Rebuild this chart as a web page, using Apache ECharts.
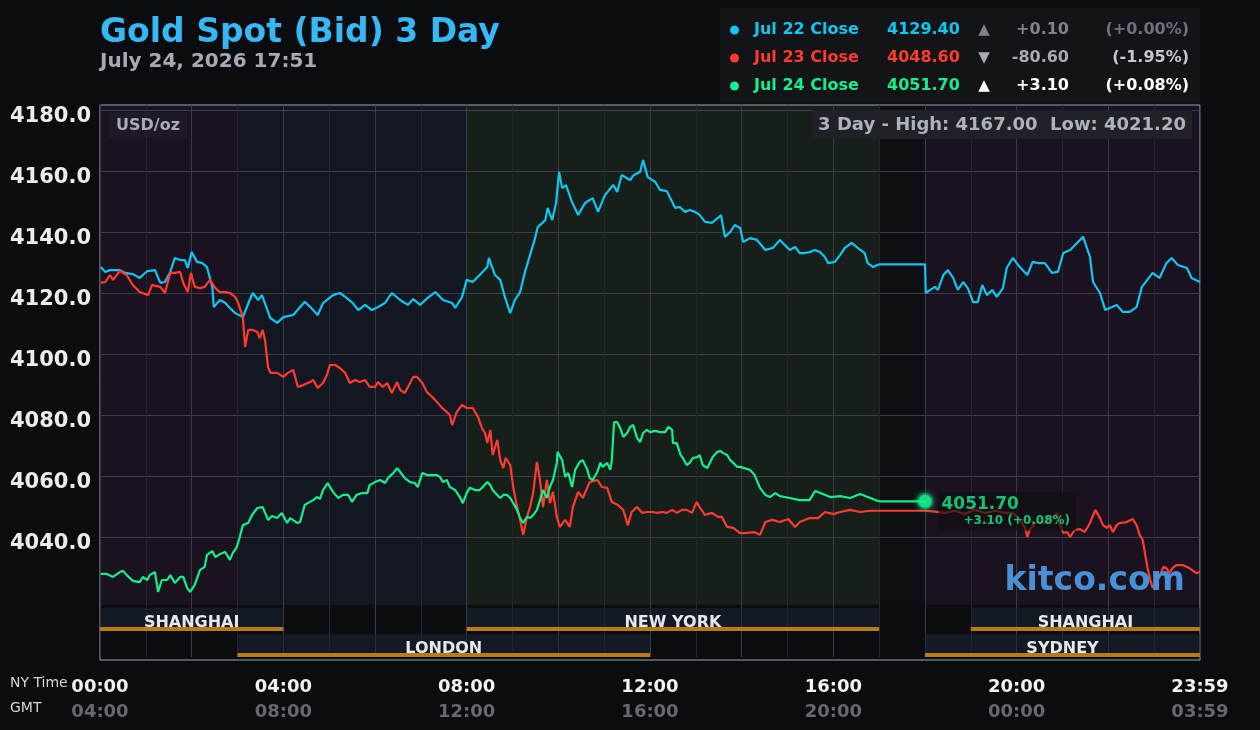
<!DOCTYPE html>
<html>
<head>
<meta charset="utf-8">
<title>Gold Spot (Bid) 3 Day</title>
<script src="https://cdn.jsdelivr.net/npm/echarts@6/dist/echarts.min.js"></script>
<style>
  html, body { margin: 0; padding: 0; background: #0b0c10; }
  #chart { width: 1260px; height: 730px; }
</style>
</head>
<body>
<div id="chart"></div>
<script>
// times are minutes after midnight, NY time
const jul22Times = [1,7,13,26,33,43,52,62,72,79,85,92,98,105,111,115,120,127,134,140,147,149,157,164,170,177,187,196,200,207,212,223,232,240,253,262,268,275,285,292,305,314,321,331,338,347,356,364,373,382,393,403,410,419,429,439,449,461,465,474,480,488,497,507,509,517,524,530,537,543,550,556,563,569,573,583,586,592,597,601,605,610,618,626,635,645,652,661,672,677,683,694,699,707,711,717,727,733,742,753,759,766,772,779,785,792,801,809,813,818,825,831,838,842,851,860,871,881,890,899,903,910,916,923,929,936,943,949,953,962,969,975,984,992,1001,1005,1012,1020,1080,1081,1087,1093,1097,1104,1110,1117,1123,1130,1136,1143,1149,1155,1161,1168,1174,1182,1187,1195,1204,1214,1221,1228,1237,1246,1254,1261,1270,1279,1287,1296,1300,1309,1316,1325,1331,1339,1348,1357,1364,1371,1378,1387,1396,1403,1411,1423,1429,1440]
const jul22Bid = [4128.5,4126.9,4127.5,4127.5,4126.6,4126.2,4124.9,4127.2,4127.5,4123.3,4123.6,4126.9,4131.5,4130.8,4130.8,4128.2,4133.4,4130.2,4129.8,4128.5,4122.0,4115.4,4117.7,4116.7,4115.1,4113.4,4112.1,4117.7,4120.0,4117.7,4119.3,4111.8,4110.2,4112.1,4112.8,4115.4,4117.1,4115.5,4112.8,4116.7,4119.3,4120.0,4118.7,4116.7,4114.4,4116.1,4114.4,4115.4,4116.7,4120.0,4117.7,4116.1,4118.0,4116.1,4118.4,4120.3,4117.7,4116.7,4115.1,4118.7,4124.3,4123.6,4125.9,4128.5,4131.5,4125.9,4124.3,4118.7,4113.4,4117.7,4120.3,4126.6,4132.5,4137.4,4141.6,4143.9,4147.9,4143.9,4149.5,4159.7,4154.4,4155.4,4149.8,4145.6,4149.5,4151.1,4146.6,4152.1,4155.4,4153.1,4158.7,4157.0,4158.7,4159.7,4163.6,4158.0,4156.4,4153.8,4153.4,4147.9,4148.2,4146.6,4147.2,4146.6,4145.6,4143.3,4143.0,4144.6,4145.6,4138.4,4140.0,4142.3,4141.3,4136.7,4138.0,4137.4,4134.1,4134.8,4137.4,4135.1,4134.1,4135.1,4133.1,4133.1,4133.4,4134.1,4133.4,4131.8,4129.8,4130.2,4132.5,4134.8,4136.4,4134.8,4133.1,4129.8,4128.5,4129.4,4129.4,4120.0,4121.0,4122.0,4121.0,4125.9,4127.5,4124.9,4121.0,4123.6,4121.6,4117.0,4117.0,4122.6,4119.3,4121.0,4118.7,4121.6,4128.2,4131.5,4128.5,4125.9,4130.2,4129.8,4129.8,4126.6,4126.9,4133.1,4134.1,4136.4,4138.4,4131.8,4123.6,4120.0,4114.4,4115.4,4116.1,4113.8,4113.8,4115.4,4122.0,4124.3,4126.6,4124.9,4129.8,4131.5,4129.2,4128.2,4124.9,4123.6]

const jul23Times = [1,7,13,17,26,35,43,52,63,68,79,85,92,98,105,109,115,119,124,131,137,144,151,157,164,170,177,181,187,190,194,200,206,209,213,216,220,223,232,240,246,253,259,266,275,279,285,292,297,301,308,314,321,327,334,340,347,353,360,364,370,376,382,389,393,399,406,410,415,422,428,435,441,448,454,458,461,467,474,480,488,495,500,504,507,511,514,520,524,528,531,537,541,546,550,554,559,563,567,572,576,580,585,589,593,598,602,609,615,619,626,632,641,651,657,664,670,678,685,691,696,703,710,716,723,729,736,742,749,755,762,768,775,781,785,792,801,809,814,821,829,838,844,857,864,871,880,890,901,910,916,929,940,949,960,969,982,995,1008,1020,1080,1093,1106,1119,1132,1145,1159,1172,1185,1195,1204,1211,1214,1217,1224,1231,1237,1244,1248,1253,1257,1261,1266,1270,1276,1283,1289,1296,1303,1309,1313,1318,1322,1326,1331,1335,1344,1352,1357,1361,1365,1371,1375,1378,1384,1387,1392,1396,1400,1404,1409,1417,1426,1435,1440]
const jul23Bid = [4123.3,4123.6,4125.9,4124.3,4127.2,4125.9,4122.6,4120.3,4119.3,4122.6,4122.0,4120.0,4126.6,4126.6,4126.9,4123.3,4120.3,4126.6,4122.0,4121.6,4122.0,4124.3,4121.6,4120.3,4120.3,4120.0,4118.7,4116.7,4112.1,4102.3,4107.9,4107.9,4107.2,4105.2,4107.9,4104.6,4095.7,4093.8,4093.8,4092.5,4093.8,4094.8,4089.2,4089.8,4090.8,4091.5,4088.9,4090.5,4093.1,4096.4,4096.4,4095.4,4093.8,4090.5,4091.5,4090.8,4091.5,4089.2,4089.2,4090.8,4089.2,4090.5,4087.2,4090.8,4088.2,4087.2,4090.5,4092.5,4092.5,4090.5,4087.5,4085.9,4084.3,4082.3,4081.0,4080.0,4076.7,4081.0,4083.3,4082.3,4082.3,4079.3,4075.7,4074.1,4070.8,4075.1,4066.9,4071.8,4065.2,4062.6,4065.9,4063.6,4056.4,4049.8,4045.6,4040.7,4046.6,4049.8,4054.4,4064.6,4058.7,4049.8,4058.7,4051.1,4054.8,4046.6,4043.3,4045.6,4043.3,4049.8,4054.8,4052.8,4058.0,4058.7,4056.4,4056.1,4051.5,4050.5,4048.9,4043.9,4048.2,4049.8,4047.9,4048.2,4048.2,4047.9,4048.2,4047.9,4048.9,4047.9,4048.9,4048.9,4047.9,4051.5,4049.8,4047.2,4047.9,4046.6,4046.6,4043.3,4043.0,4041.3,4041.3,4041.6,4040.7,4044.9,4045.6,4044.9,4045.9,4043.3,4044.9,4046.2,4046.2,4048.2,4047.5,4048.2,4048.9,4048.2,4048.6,4048.6,4048.6,4048.3,4047.9,4048.6,4047.5,4048.9,4047.9,4048.6,4047.9,4047.9,4045.6,4043.0,4040.0,4042.3,4044.6,4044.9,4044.6,4045.6,4046.6,4047.9,4043.9,4041.3,4041.6,4040.0,4042.3,4042.6,4041.6,4044.6,4048.9,4046.2,4043.9,4043.0,4043.9,4041.6,4043.9,4044.6,4044.9,4045.9,4043.9,4040.7,4039.0,4030.2,4025.9,4023.3,4025.9,4026.9,4030.2,4029.8,4028.2,4029.8,4030.8,4030.8,4029.8,4028.2,4028.5]

const jul24Times = [1,9,17,26,30,35,43,52,56,62,65,72,76,81,88,92,98,105,109,114,118,124,131,137,140,147,151,157,164,170,174,179,183,187,194,199,206,213,220,225,232,238,245,249,258,262,268,272,279,284,288,292,298,305,312,318,325,330,336,343,350,353,360,367,373,377,384,389,393,399,406,412,416,422,428,435,441,445,449,454,458,465,471,475,480,484,491,497,501,507,511,514,520,524,528,533,537,541,546,550,554,559,563,567,572,576,580,585,589,593,598,599,605,609,613,618,622,628,632,638,641,645,651,655,658,664,668,670,673,677,681,685,690,694,698,703,707,711,716,720,727,733,740,744,749,750,755,760,763,768,772,776,782,785,789,795,799,802,808,812,816,821,825,829,834,838,851,857,864,871,877,884,890,903,916,929,936,943,956,969,982,995,1005,1015,1020,1080]
const jul24Bid = [4027.9,4027.9,4026.9,4028.5,4028.9,4027.5,4025.6,4025.2,4026.9,4025.9,4027.5,4028.5,4022.0,4025.9,4025.9,4027.5,4024.9,4026.9,4026.9,4023.3,4022.0,4024.3,4029.2,4030.2,4034.1,4035.4,4033.4,4034.4,4035.1,4032.5,4034.8,4036.7,4040.0,4043.9,4044.6,4047.2,4049.5,4049.8,4045.6,4046.9,4046.2,4047.9,4044.6,4046.2,4044.6,4044.9,4050.5,4051.1,4052.1,4053.1,4052.5,4055.4,4057.7,4054.8,4052.8,4053.8,4053.8,4051.5,4053.8,4054.4,4054.4,4057.0,4058.0,4058.7,4057.7,4059.3,4061.0,4062.6,4061.3,4059.3,4058.0,4057.7,4056.4,4061.0,4060.3,4060.3,4060.3,4059.7,4058.0,4058.7,4056.4,4055.4,4053.1,4051.1,4054.4,4056.1,4055.4,4055.4,4056.4,4058.0,4057.0,4055.4,4053.8,4052.8,4053.8,4053.8,4052.8,4051.1,4048.9,4046.2,4044.6,4046.6,4046.2,4047.2,4048.9,4052.1,4055.4,4052.8,4056.4,4058.7,4064.3,4067.9,4065.2,4059.7,4061.0,4056.4,4062.0,4064.6,4065.2,4062.0,4059.3,4058.7,4061.3,4064.3,4063.0,4064.3,4062.0,4065.2,4077.7,4077.7,4075.7,4072.8,4074.1,4076.1,4076.7,4072.5,4071.1,4074.1,4075.1,4074.4,4074.8,4074.4,4074.4,4076.1,4075.1,4070.8,4070.8,4066.9,4065.9,4063.6,4064.3,4065.9,4066.2,4066.9,4063.6,4062.6,4064.6,4066.2,4067.9,4068.2,4067.5,4066.9,4065.2,4064.3,4063.0,4063.0,4062.0,4060.3,4056.1,4053.8,4053.1,4054.4,4053.4,4052.8,4052.1,4052.1,4055.1,4054.4,4053.1,4053.4,4052.8,4054.1,4053.1,4052.1,4051.7,4051.7]

const closeLabels = ['Jul 22 Close', 'Jul 23 Close', 'Jul 24 Close']
const closeValues = [4129.40, 4048.60, 4051.70]
const closeChanges = [0.10, -80.60, 3.10]
const closePercents = [0.00, -1.95, 0.08]

const yTicks = [4020, 4180, 20]
const hourMarks = [0, 1440, 120]

// trading sessions shown under the plot (row 0 = top, row 1 = bottom)
const sessionNames = ['SHANGHAI', 'LONDON', 'NEW YORK', 'SYDNEY', 'SHANGHAI']
const sessionStart = [0, 180, 480, 1080, 1140]
const sessionEnd = [240, 720, 1020, 1440, 1440]
const sessionRow = [0, 1, 0, 1, 0]

// background tint of the price area
const bandEdges = [0, 180, 480, 1020, 1080, 1440]
const bandKinds = ['asia', 'london', 'newyork', 'closed', 'asia']

const SANS = '"DejaVu Sans", sans-serif'
const lineColors = ['#12c6f2', '#ff3a2e', '#14f08b']
const deltaColors = [['#80838c', '#6f727c'], ['#a9abb3', '#c6c8ce'], ['#ffffff', '#ffffff']]
const bandColors = { asia: '#1a121f', london: '#121722', newyork: '#171f1a', closed: '#0e0f12' }

const pad = n => String(n).padStart(2, '0')
const hhmm = m => pad(Math.floor(m / 60)) + ':' + pad(m % 60)
const signed = (v, d) => (v >= 0 ? '+' : '') + v.toFixed(d)

const chart = echarts.init(document.getElementById('chart'))

const legendRich = { sp: { width: 10 } }
closeLabels.forEach((_, i) => {
  const base = { fontFamily: SANS, fontWeight: 'bold', fontSize: 16, lineHeight: 18 }
  legendRich['n' + i] = { ...base, color: lineColors[i], width: 133 }
  legendRich['v' + i] = { ...base, color: lineColors[i], width: 80 }
  legendRich['t' + i] = { ...base, color: deltaColors[i][0], width: 34, align: 'center', fontSize: 15 }
  legendRich['c' + i] = { ...base, color: deltaColors[i][0], width: 68, align: 'right' }
  legendRich['p' + i] = { ...base, color: deltaColors[i][1], width: 120, align: 'right' }
})

const priceSeries = [[jul22Times, jul22Bid], [jul23Times, jul23Bid], [jul24Times, jul24Bid]].map((s, i) => ({
  name: closeLabels[i],
  type: 'line',
  xAxisIndex: 3,
  yAxisIndex: 3,
  data: s[0].map((t, k) => [t, s[1][k]]),
  showSymbol: false,
  color: lineColors[i],
  lineStyle: { width: 2.2, color: lineColors[i] },
  emphasis: { disabled: true },
  z: 3
}))

const lastIdx = jul24Times.length - 1
const gridX = { left: 100, width: 1100 }

chart.setOption({
  backgroundColor: '#0b0c10',
  animation: false,
  title: [
    {
      text: 'Gold Spot (Bid) 3 Day',
      subtext: 'July 24, 2026 17:51',
      left: 100, top: 15, padding: 0, itemGap: -1,
      textStyle: { color: '#35b8f3', fontFamily: SANS, fontWeight: 'bold', fontSize: 33, lineHeight: 36 },
      subtextStyle: { color: '#a9a9b3', fontFamily: SANS, fontWeight: 'bold', fontSize: 20, lineHeight: 24 }
    },
    {
      text: 'USD/oz', left: 109, top: 112, padding: [6, 7, 4, 7],
      backgroundColor: 'rgba(38,36,46,0.45)',
      textStyle: { color: '#a6acb8', fontFamily: SANS, fontWeight: 'bold', fontSize: 16, lineHeight: 16 }
    },
    {
      text: '3 Day - High: 4167.00  Low: 4021.20', right: 68, top: 110, padding: [6, 6, 4, 6],
      backgroundColor: '#1f2126',
      textStyle: { color: '#aeb2ba', fontFamily: SANS, fontWeight: 'bold', fontSize: 18, lineHeight: 19 }
    },
    {
      text: 'kitco.com', right: 75, top: 563, padding: 0,
      textStyle: { color: '#4a90d6', fontFamily: SANS, fontWeight: 'bold', fontSize: 33, lineHeight: 36 }
    }
  ],
  legend: {
    data: closeLabels,
    orient: 'vertical',
    left: 720, top: 8,
    padding: [14, 11, 9, 10],
    itemGap: 12,
    backgroundColor: '#131418',
    icon: 'circle',
    itemWidth: 9, itemHeight: 9,
    formatter: name => {
      const i = closeLabels.indexOf(name)
      const arrow = closeChanges[i] >= 0 ? '▲' : '▼'
      return '{sp| }{n' + i + '|' + name + '}{v' + i + '|' + closeValues[i].toFixed(2) + '}' +
        '{t' + i + '|' + arrow + '}{c' + i + '|' + signed(closeChanges[i], 2) + '}' +
        '{p' + i + '|(' + signed(closePercents[i], 2) + '%)}'
    },
    textStyle: { rich: legendRich }
  },
  graphic: [
    { type: 'text', left: 10, top: 676, style: { text: 'NY Time', fill: '#d6d6da', font: '14px ' + SANS } },
    { type: 'text', left: 10, top: 701, style: { text: 'GMT', fill: '#d6d6da', font: '14px ' + SANS } }
  ],
  grid: [
    { ...gridX, top: 105, height: 500, show: false },
    { ...gridX, top: 605, height: 52, show: false },
    { ...gridX, top: 105, height: 555, show: true, borderColor: '#9aa6ba', borderWidth: 1, backgroundColor: 'transparent' },
    { ...gridX, top: 110, height: 488, show: false }
  ],
  xAxis: [0, 1, 2, 3].map(g => ({
    type: 'value',
    gridIndex: g,
    min: hourMarks[0], max: hourMarks[1], interval: hourMarks[2],
    show: g < 2,
    axisLine: { show: false },
    axisTick: { show: false },
    minorTick: { show: false, splitNumber: 2 },
    splitLine: { show: g < 2, lineStyle: { color: '#3a3b44', width: 1 } },
    minorSplitLine: { show: g < 2, lineStyle: { color: '#25262e', width: 1 } },
    axisLabel: g === 1 ? {
      show: true,
      interval: 0,
      margin: 18,
      formatter: v => {
        if (v % 240 !== 0) return ''
        const ny = Math.min(v, 1439)
        return '{ny|' + hhmm(ny) + '}\n{gmt|' + hhmm((ny + 240) % 1440) + '}'
      },
      rich: {
        ny: { color: '#f2f2f2', fontFamily: SANS, fontWeight: 'bold', fontSize: 18, lineHeight: 25 },
        gmt: { color: '#68696e', fontFamily: SANS, fontWeight: 'bold', fontSize: 18, lineHeight: 25 }
      }
    } : { show: false }
  })),
  yAxis: [
    { type: 'value', gridIndex: 0, min: 0, max: 1, show: false },
    { type: 'category', gridIndex: 1, data: ['upper', 'lower'], inverse: true, show: false },
    { type: 'value', gridIndex: 2, show: false },
    {
      type: 'value', gridIndex: 3,
      min: yTicks[0], max: yTicks[1], interval: yTicks[2],
      axisLine: { show: false },
      axisTick: { show: false },
      splitLine: { lineStyle: { color: ['transparent', '#3c3d47', '#3c3d47', '#3c3d47', '#3c3d47', '#3c3d47', '#3c3d47', '#3c3d47', '#3c3d47'] } },
      axisLabel: {
        showMinLabel: false,
        margin: 9,
        formatter: v => '{p|' + v.toFixed(1) + '}',
        rich: {
          p: { color: '#ececec', fontFamily: SANS, fontWeight: 'bold', fontSize: 21, padding: [14, 0, 0, 0] }
        }
      }
    }
  ],
  series: [
    {
      type: 'custom',
      name: 'bands',
      xAxisIndex: 0, yAxisIndex: 0,
      z: -1,
      silent: true,
      data: bandKinds.map((k, i) => [bandEdges[i], bandEdges[i + 1]]),
      renderItem: (params, api) => {
        const cs = params.coordSys
        const x0 = api.coord([api.value(0), 0])[0]
        const x1 = api.coord([api.value(1), 0])[0]
        return {
          type: 'rect',
          shape: { x: x0, y: cs.y, width: x1 - x0, height: cs.height },
          style: { fill: bandColors[bandKinds[params.dataIndex]] }
        }
      }
    },
    {
      type: 'custom',
      name: 'sessions',
      xAxisIndex: 1, yAxisIndex: 1,
      silent: true,
      data: sessionStart.map((s, i) => [s, sessionEnd[i], sessionRow[i]]),
      renderItem: (params, api) => {
        const a = api.coord([api.value(0), api.value(2)])
        const b = api.coord([api.value(1), api.value(2)])
        const band = api.size([0, 1])[1]
        const top = a[1] - band / 2 + 3
        const h = band - 3
        return {
          type: 'group',
          children: [
            { type: 'rect', shape: { x: a[0], y: top, width: b[0] - a[0], height: h }, style: { fill: 'rgba(30,38,52,0.55)' } },
            { type: 'rect', shape: { x: a[0], y: top + h - 4, width: b[0] - a[0], height: 4 }, style: { fill: '#b87b15' } },
            {
              type: 'text', x: (a[0] + b[0]) / 2, y: top + 15,
              style: { text: sessionNames[params.dataIndex], fill: '#e6e8ee', font: 'bold 16px ' + SANS, align: 'center', verticalAlign: 'middle' }
            }
          ]
        }
      }
    },
    ...priceSeries,
    {
      type: 'scatter',
      name: 'last',
      xAxisIndex: 3, yAxisIndex: 3,
      z: 4,
      data: [[jul24Times[lastIdx], jul24Bid[lastIdx]]],
      symbolSize: 13,
      itemStyle: { color: lineColors[2], borderColor: 'rgba(20,240,139,0.35)', borderWidth: 4, shadowBlur: 6, shadowColor: lineColors[2] },
      emphasis: { disabled: true },
      label: {
        show: true,
        position: 'right',
        distance: 5,
        offset: [0, 10],
        backgroundColor: 'rgba(14,15,18,0.82)',
        padding: [4, 6, 3, 3],
        formatter: () => '{v|' + closeValues[2].toFixed(2) + '}\n{c|' + signed(closeChanges[2], 2) + ' (' + signed(closePercents[2], 2) + '%)}',
        rich: {
          v: { color: lineColors[2], fontFamily: SANS, fontWeight: 'bold', fontSize: 17, lineHeight: 18 },
          c: { color: lineColors[2], fontFamily: SANS, fontWeight: 'bold', fontSize: 12, lineHeight: 14, padding: [0, 0, 0, 22] }
        }
      }
    }
  ]
})
</script>
</body>
</html>
